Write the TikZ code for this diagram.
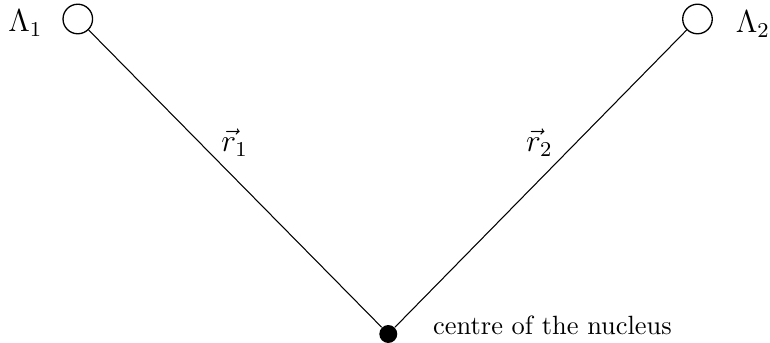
\documentclass[tikz,border=0pt]{standalone}
\begin{document}
\begin{tikzpicture}[x=0.3788pt,y=-0.3788pt,
  hollow/.style={circle,draw,line width=0.5pt,inner sep=0pt,minimum size=11.2pt},
  solid dot/.style={circle,fill=black,inner sep=0pt,minimum size=6.8pt},
  lbl/.style={inner sep=0pt,anchor=base},
  bond/.style={line width=0.4pt}]
\useasboundingbox (0,0) rectangle (770,343);
\node[hollow] (c1) at (77.8,19) {};
\node[hollow] (c2) at (697.5,19) {};
\node[solid dot] (nuc) at (388.3,334) {};
\draw[bond] (c1) -- (nuc);
\draw[bond] (c2) -- (nuc);
\node[lbl] (l1) at (25.3,31.7) {\large$\Lambda_1$};
\node[lbl] (l2) at (753,33) {\large$\Lambda_2$};
\node[lbl] (r1) at (234.6,152) {\large$\vec{r}_1$};
\node[lbl] (r2) at (539.5,152) {\large$\vec{r}_2$};
\node[inner sep=0pt,anchor=base west] (t) at (432.7,335) {centre of the nucleus};
\end{tikzpicture}
\end{document}
